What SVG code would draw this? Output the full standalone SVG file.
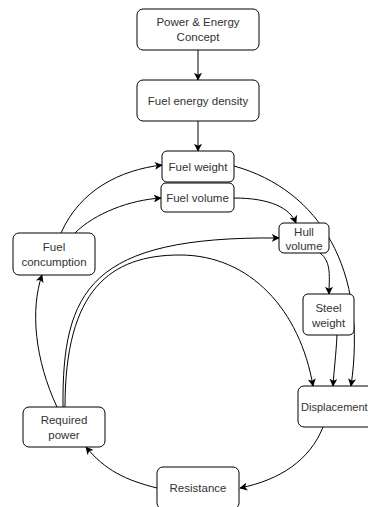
<svg xmlns="http://www.w3.org/2000/svg" width="368" height="507" viewBox="0 0 368 507">
<style>
.n{fill:#fff;stroke:#000;stroke-width:1}
.t{font-family:"Liberation Sans",Arial,sans-serif;font-size:11.5px;fill:#333;text-anchor:middle}
.c{fill:none;stroke:#000;stroke-width:1;marker-end:url(#a)}
</style>
<defs>
<marker id="a" viewBox="0 0 10 10" refX="9" refY="5" markerWidth="8" markerHeight="8" orient="auto" markerUnits="userSpaceOnUse">
<path d="M0,0 L10,5 L0,10 L2.5,5 Z" fill="#000"/>
</marker>
</defs>
<rect width="368" height="507" fill="#fff"/>
<g id="connectors">
<path class="c" d="M198,50 L198,80"/>
<path class="c" d="M198,121 L198,151"/>
<path class="c" d="M61,233 C80,190 120,170 162,165"/>
<path class="c" d="M75,233 C95,213 130,200 161,198"/>
<path class="c" d="M234,166 C320,190 368,270 351,386"/>
<path class="c" d="M234,198 C270,198 290,208 296,223"/>
<path class="c" d="M320,253 C332,262 329,278 329,294"/>
<path class="c" d="M337,335 C336,355 334,370 333,386"/>
<path class="c" d="M63,407 C62,290 90,236 279,238"/>
<path class="c" d="M65,407 C65,290 110,255 180,255 C250,255 300,310 313,386"/>
<path class="c" d="M57,407 C35,360 30,310 42,275"/>
<path class="c" d="M323,427 C310,460 280,480 240,488"/>
<path class="c" d="M157,488 C125,480 105,470 86,447"/>
</g>
<g id="power-energy-concept"><rect class="n" x="137" y="9" width="122" height="41" rx="6"/><text class="t" x="198" y="26">Power &amp; Energy</text><text class="t" x="198" y="41">Concept</text></g>
<g id="fuel-energy-density"><rect class="n" x="137" y="80" width="122" height="41" rx="6"/><text class="t" x="198" y="105">Fuel energy density</text></g>
<g id="fuel-weight"><rect class="n" x="162" y="151" width="72" height="31" rx="5"/><text class="t" x="198" y="171">Fuel weight</text></g>
<g id="fuel-volume"><rect class="n" x="161" y="183" width="73" height="29" rx="5"/><text class="t" x="197.5" y="202">Fuel volume</text></g>
<g id="hull-volume"><rect class="n" x="279" y="223" width="50" height="30" rx="5"/><text class="t" x="304" y="236">Hull</text><text class="t" x="304" y="250">volume</text></g>
<g id="fuel-concumption"><rect class="n" x="13" y="233" width="82" height="42" rx="6"/><text class="t" x="54" y="251">Fuel</text><text class="t" x="54" y="266">concumption</text></g>
<g id="steel-weight"><rect class="n" x="303" y="294" width="51" height="41" rx="5"/><text class="t" x="328.5" y="312">Steel</text><text class="t" x="328.5" y="327">weight</text></g>
<g id="displacement"><rect class="n" x="298" y="386" width="80" height="41" rx="6"/><text class="t" x="301" y="411" style="text-anchor:start;font-size:11px">Displacement</text></g>
<g id="required-power"><rect class="n" x="23" y="407" width="82" height="40" rx="6"/><text class="t" x="64" y="424">Required</text><text class="t" x="64" y="439">power</text></g>
<g id="resistance"><rect class="n" x="157" y="467" width="82" height="42" rx="6"/><text class="t" x="198" y="492">Resistance</text></g>
</svg>
